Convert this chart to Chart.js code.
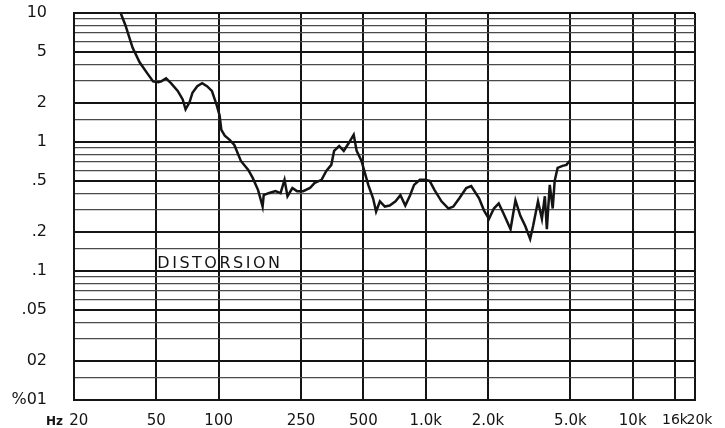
<!DOCTYPE html>
<html>
<head>
<meta charset="utf-8">
<script src="https://cdn.jsdelivr.net/npm/chart.js@4.4.0/dist/chart.umd.min.js"></script>
<style>
  body { margin: 0; background: #fff; }
  canvas { display: block; }
</style>
</head>
<body>
<canvas id="myChart" width="725" height="428"></canvas>
<script>
// frequency (Hz) and distortion (%)
const freqs = [
  33.6, 35.4, 38.4, 41.5, 45.3, 48.2, 51.1, 52.8, 55.7, 58.8,
  63.4, 67, 69.2, 72.3, 74.7, 78.8, 83.2, 87.8, 92.7, 97.8,
  101, 103, 107, 113, 119, 128, 139, 146, 155, 160,
  163, 165, 174, 188, 199, 208, 215, 227, 239, 256,
  276, 291, 314, 331, 350, 361, 382, 402, 425, 449,
  464, 490, 505, 528, 557, 576, 601, 635, 670, 715,
  755, 797, 841, 879, 937, 990, 1045, 1104, 1192, 1288,
  1361, 1454, 1570, 1659, 1811, 1914, 2022, 2135, 2254, 2380,
  2570, 2714, 2866, 3027, 3197, 3303, 3488, 3643, 3764, 3849,
  3975, 4108, 4199, 4338, 4581, 4786, 4946,
];
const distortion = [
  10, 8.08, 5.37, 4.15, 3.39, 2.95, 2.91, 2.95, 3.11, 2.86,
  2.49, 2.14, 1.79, 2.03, 2.41, 2.71, 2.86, 2.71, 2.49, 1.93,
  1.61, 1.24, 1.12, 1.04, 0.948, 0.713, 0.608, 0.527, 0.424, 0.353,
  0.316, 0.387, 0.401, 0.416, 0.401, 0.509, 0.38, 0.44, 0.416, 0.416,
  0.44, 0.482, 0.509, 0.597, 0.665, 0.853, 0.931, 0.853, 0.982, 1.14,
  0.853, 0.713, 0.597, 0.465, 0.366, 0.289, 0.347, 0.316, 0.322, 0.347,
  0.387, 0.322, 0.387, 0.465, 0.509, 0.509, 0.5, 0.424, 0.347, 0.305,
  0.316, 0.366, 0.44, 0.456, 0.366, 0.294, 0.254, 0.305, 0.334, 0.278,
  0.211, 0.353, 0.268, 0.223, 0.177, 0.223, 0.347, 0.254, 0.38, 0.211,
  0.465, 0.305, 0.5, 0.63, 0.653, 0.665, 0.713,
];

const xTicks = [20, 50, 100, 250, 500, 1000, 2000, 5000, 10000, 16000, 20000];
const xTickLabels = ['  20', '50', '100', '250', '500', '1.0k', '2.0k', '5.0k', '10k', '16k', '  20k'];

const yMajor = [10, 5, 2, 1, 0.5, 0.2, 0.1, 0.05, 0.02, 0.01];
const yMajorLabels = ['10', '5', '2', '1', '.5', '.2', '.1', '.05', '02', '%01'];
const yMinor = [9, 8, 7, 6, 4, 3, 1.5, 0.9, 0.8, 0.7, 0.6, 0.4, 0.3, 0.15,
  0.09, 0.08, 0.07, 0.06, 0.04, 0.03, 0.015];

const INK = '#141414';
const FONT = 'DejaVu Sans';

const points = freqs.map((f, i) => ({x: f, y: distortion[i]}));
const yAll = yMajor.concat(yMinor).sort((a, b) => a - b);

// hand lettering on the chart paper
const extraText = {
  id: 'extraText',
  afterDraw(chart) {
    const {ctx, scales: {x, y}} = chart;
    ctx.save();
    ctx.fillStyle = INK;
    ctx.font = '16px ' + FONT;
    ctx.letterSpacing = '2.5px';
    ctx.textBaseline = 'alphabetic';
    ctx.textAlign = 'left';
    ctx.fillText('DISTORSION', x.getPixelForValue(50) + 1, y.getPixelForValue(0.1) - 3);
    ctx.letterSpacing = '0px';
    ctx.font = 'bold 12px ' + FONT;
    ctx.fillText('Hz', x.getPixelForValue(20) - 28, 425);
    ctx.restore();
  },
};

const config = {
  type: 'line',
  data: {
    datasets: [{
      label: 'Distorsion',
      data: points,
      borderColor: INK,
      borderWidth: 2.5,
      pointRadius: 0,
      tension: 0,
      fill: false,
    }],
  },
  options: {
    responsive: false,
    animation: false,
    layout: {padding: {top: 13, right: 30, left: 0, bottom: 0}},
    plugins: {
      legend: {display: false},
      tooltip: {enabled: false},
    },
    scales: {
      x: {
        type: 'logarithmic',
        min: 20,
        max: 20000,
        afterBuildTicks: (scale) => {
          scale.ticks = xTicks.map((v) => ({value: v}));
        },
        afterFit: (scale) => {
          scale.height = 28;
        },
        ticks: {
          autoSkip: false,
          maxRotation: 0,
          padding: 12,
          color: INK,
          font: (ctx) => ({family: FONT, size: ctx.index >= 9 ? 14 : 15}),
          callback: (value) => {
            const i = xTicks.indexOf(value);
            return i >= 0 ? xTickLabels[i] : '';
          },
        },
        grid: {color: INK, lineWidth: 2, drawTicks: false},
        border: {display: true, color: INK, width: 2},
      },
      y: {
        type: 'logarithmic',
        min: 0.01,
        max: 10,
        afterBuildTicks: (scale) => {
          scale.ticks = yAll.map((v) => ({value: v}));
        },
        afterFit: (scale) => {
          scale.width = 74;
          scale.paddingTop = 0;
          scale.paddingBottom = 0;
        },
        ticks: {
          autoSkip: false,
          padding: 27,
          color: INK,
          font: {family: FONT, size: 16},
          callback: (value) => {
            const i = yMajor.indexOf(value);
            return i >= 0 ? yMajorLabels[i] : '';
          },
        },
        grid: {
          drawTicks: false,
          color: (ctx) => yMajor.includes(ctx.tick.value) ? INK : '#4a4a4a',
          lineWidth: (ctx) => yMajor.includes(ctx.tick.value) ? 2 : 1.2,
        },
        border: {display: true, color: INK, width: 2},
      },
    },
  },
  plugins: [extraText],
};

const myChart = new Chart(document.getElementById('myChart'), config);
</script>
</body>
</html>
